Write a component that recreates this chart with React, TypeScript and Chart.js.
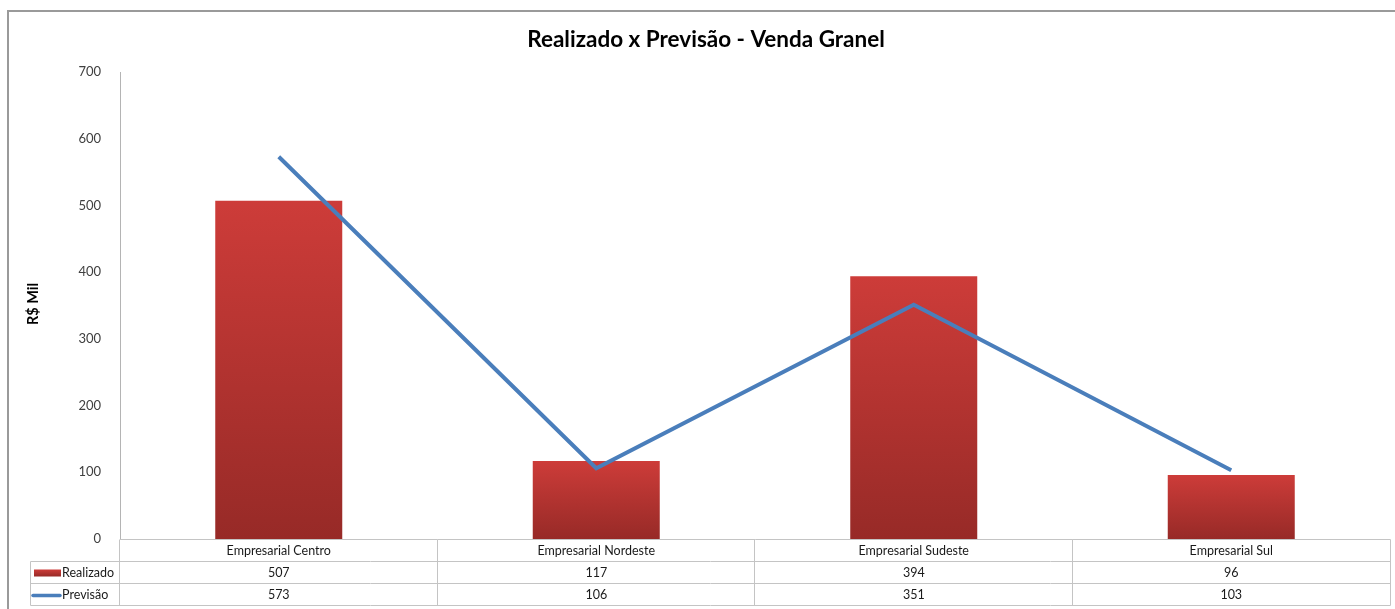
import React, { useEffect, useRef } from 'react';
import { Chart, registerables } from 'chart.js';

Chart.register(...registerables);

const categories = ['Empresarial Centro', 'Empresarial Nordeste', 'Empresarial Sudeste', 'Empresarial Sul'];
const realizado = [507, 117, 394, 96];
const previsao = [573, 106, 351, 103];
const seriesNames = ['Realizado', 'Previsão'];
const titleText = 'Realizado x Previsão - Venda Granel';
const yAxisTitle = 'R$ Mil';
const yMin = 0;
const yMax = 700;
const yStep = 100;

const FONT = 'Lato, "Open Sans", sans-serif';
const RED_TOP = '#cd3c39';
const RED_BOTTOM = '#972a27';
const BLUE = '#4a7ebb';
const GRID = '#c4c4c4';

const overlayPlugin = {
  id: 'overlay',
  afterDraw(chart: any) {
    const { ctx, chartArea, scales } = chart;
    const xs = scales.x;
    const ys = scales.y;
    ctx.save();
    // frame
    ctx.strokeStyle = '#9a9a9a';
    ctx.lineWidth = 2;
    ctx.beginPath();
    ctx.moveTo(8, 609);
    ctx.lineTo(8, 11);
    ctx.lineTo(1395, 11);
    ctx.stroke();

    // title
    ctx.fillStyle = '#000';
    ctx.font = `bold 22.5px ${FONT}`;
    ctx.textAlign = 'center';
    ctx.textBaseline = 'middle';
    ctx.fillText(titleText, 706, 40);

    // y title
    ctx.save();
    ctx.translate(33, 304);
    ctx.rotate(-Math.PI / 2);
    ctx.font = `bold 14.5px ${FONT}`;
    ctx.fillText(yAxisTitle, 0, 0);
    ctx.restore();

    // data table
    const n = categories.length;
    const w = (chartArea.right - chartArea.left) / n;
    const top = Math.round(ys.getPixelForValue(yMin)) + 0.5;
    const rowH = 22;
    const tableLeft = 30.5;
    const right = chartArea.right + 0.5;
    ctx.strokeStyle = GRID;
    ctx.lineWidth = 1;
    ctx.beginPath();
    ctx.moveTo(chartArea.left, top);
    ctx.lineTo(right, top);
    for (let r = 1; r <= 3; r++) {
      ctx.moveTo(tableLeft, top + r * rowH);
      ctx.lineTo(right, top + r * rowH);
    }
    for (let i = 0; i <= n; i++) {
      const cx = i < n ? Math.round(xs.getPixelForValue(i) - w / 2) - 0.5 : right;
      ctx.moveTo(cx, top);
      ctx.lineTo(cx, top + 3 * rowH);
    }
    ctx.moveTo(tableLeft, top + rowH);
    ctx.lineTo(tableLeft, top + 3 * rowH);
    ctx.stroke();

    ctx.font = `12.5px ${FONT}`;
    ctx.fillStyle = '#1a1a1a';
    ctx.textAlign = 'center';
    const rows = [realizado, previsao];
    for (let i = 0; i < n; i++) {
      const cx = xs.getPixelForValue(i);
      ctx.fillText(categories[i], cx, top + rowH / 2);
      rows.forEach((vals, r) => {
        ctx.fillText(String(vals[i]), cx, top + rowH * (r + 1) + rowH / 2);
      });
    }
    // legend keys
    ctx.textAlign = 'left';
    const r1 = top + rowH * 1.5;
    const r2 = top + rowH * 2.5;
    const g = ctx.createLinearGradient(0, r1 - 3, 0, r1 + 4);
    g.addColorStop(0, RED_TOP);
    g.addColorStop(1, RED_BOTTOM);
    ctx.fillStyle = g;
    ctx.fillRect(34, r1 - 3, 27, 7);
    ctx.strokeStyle = BLUE;
    ctx.lineWidth = 3.5;
    ctx.lineCap = 'round';
    ctx.beginPath();
    ctx.moveTo(33, r2 + 1);
    ctx.lineTo(60, r2 + 1);
    ctx.stroke();
    ctx.fillStyle = '#1a1a1a';
    ctx.fillText(seriesNames[0], 62, r1);
    ctx.fillText(seriesNames[1], 62, r2);
    ctx.restore();
  },
};

export default function App() {
  const ref = useRef<HTMLCanvasElement>(null);
  useEffect(() => {
    document.body.style.margin = '0';
    const canvas = ref.current!;
    const chart = new Chart(canvas, {
      type: 'bar',
      data: {
        labels: categories,
        datasets: [
          {
            type: 'line',
            label: seriesNames[1],
            data: previsao,
            borderColor: BLUE,
            backgroundColor: BLUE,
            borderWidth: 4,
            pointRadius: 0,
            tension: 0,
            order: 0,
          } as any,
          {
            type: 'bar',
            label: seriesNames[0],
            data: realizado,
            order: 1,
            barPercentage: 1,
            categoryPercentage: 0.4,
            borderWidth: 0,
            backgroundColor: (c: any) => {
              const chart = c.chart;
              const ys = chart.scales?.y;
              if (!ys || c.dataIndex === undefined) return RED_TOP;
              const topPx = ys.getPixelForValue(realizado[c.dataIndex]);
              const basePx = ys.getPixelForValue(0);
              if (!isFinite(topPx) || !isFinite(basePx) || topPx === basePx) return RED_TOP;
              const grad = chart.ctx.createLinearGradient(0, topPx, 0, basePx);
              grad.addColorStop(0, RED_TOP);
              grad.addColorStop(1, RED_BOTTOM);
              return grad;
            },
          },
        ],
      },
      options: {
        responsive: false,
        animation: false,
        layout: { padding: { left: 0, right: 5, top: 72, bottom: 70 } },
        plugins: {
          legend: { display: false },
          title: { display: false },
          tooltip: { enabled: false },
        },
        scales: {
          x: { display: false, offset: true },
          y: {
            min: yMin,
            max: yMax,
            ticks: {
              stepSize: yStep,
              padding: 11,
              color: '#404040',
              font: { family: FONT, size: 13 },
            },
            grid: { display: false },
            border: { display: true, color: '#b4b4b4', width: 1 },
            afterFit: (s: any) => {
              s.width = 120;
            },
          },
        },
      },
      plugins: [overlayPlugin],
    });
    return () => chart.destroy();
  }, []);
  return <canvas ref={ref} width={1395} height={609} style={{ display: 'block' }} />;
}
